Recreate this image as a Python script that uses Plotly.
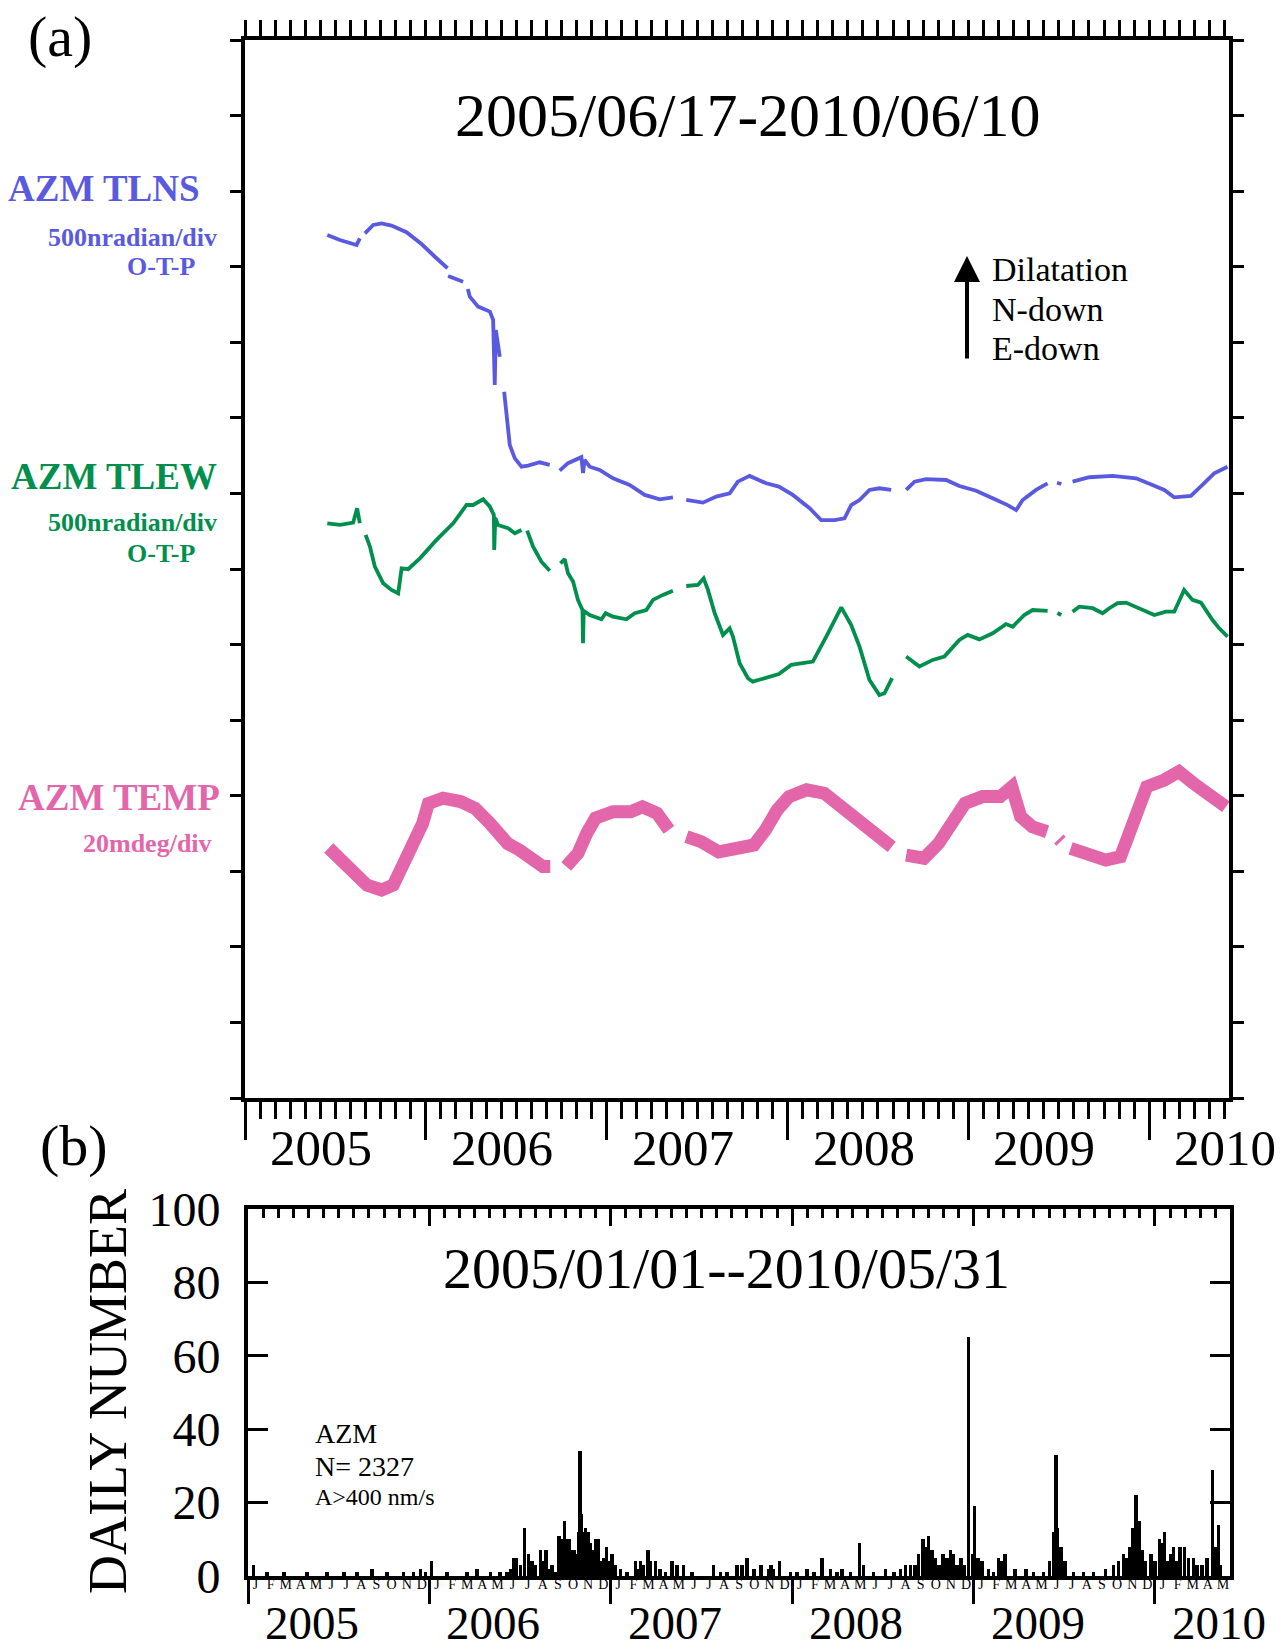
import plotly.graph_objects as go

# ---------------- data ----------------
# Panel (a): tilt (nradian, relative) and temperature (mdeg, relative); x in decimal years
TLNS_YEAR = [2005.455, 2005.525, 2005.617, 2005.635, None,
             2005.663, 2005.709, 2005.755, 2005.810, 2005.893, 2005.976, 2006.050, 2006.120, None,
             2006.123, 2006.206, None,
             2006.232, 2006.243, 2006.289, 2006.354, 2006.372, 2006.381, 2006.387, 2006.409, None,
             2006.433, 2006.446, 2006.464, 2006.492, 2006.529, 2006.565, 2006.630, 2006.685, None,
             2006.740, 2006.786, 2006.860, 2006.869, 2006.878, 2006.906, 2006.961, 2007.035, 2007.127,
             2007.210, 2007.293, 2007.366, None,
             2007.440, 2007.532, 2007.606, 2007.680, 2007.725, 2007.790, 2007.882, 2007.952, 2008.029,
             2008.122, 2008.186, 2008.260, 2008.315, 2008.352, 2008.398, 2008.453, 2008.508, 2008.573, None,
             2008.656, 2008.702, 2008.766, 2008.877, 2008.950, 2009.043, 2009.134, 2009.217, 2009.264,
             2009.300, 2009.374, 2009.438, None,
             2009.490, 2009.514, None,
             2009.576, 2009.669, 2009.797, 2009.927, 2010.018, 2010.083, 2010.138, 2010.230, 2010.294,
             2010.359, 2010.433]
TLNS_NRAD = [0, -33, -66, -22, None,
             11, 66, 77, 62, 18, -60, -144, -220, None,
             -271, -309, None,
             -357, -408, -474, -507, -562, -992, -629, -806, None,
             -1037, -1202, -1389, -1478, -1533, -1526, -1504, -1521, None,
             -1559, -1510, -1470, -1575, -1488, -1533, -1555, -1610, -1654,
             -1720, -1749, -1736, None,
             -1753, -1771, -1731, -1709, -1632, -1594, -1643, -1665, -1720,
             -1808, -1886, -1886, -1875, -1787, -1754, -1687, -1676, -1687, None,
             -1687, -1632, -1616, -1621, -1661, -1692, -1742, -1787, -1820,
             -1754, -1687, -1643, None,
             -1639, -1648, None,
             -1632, -1603, -1594, -1610, -1654, -1687, -1736, -1727, -1654,
             -1577, -1533]

TLEW_YEAR = [2005.455, 2005.525, 2005.598, 2005.620, 2005.635, None,
             2005.667, 2005.691, 2005.718, 2005.764, 2005.810, 2005.847, 2005.866, 2005.902, 2005.967,
             2006.059, 2006.151, 2006.225, 2006.261, 2006.317, 2006.354, 2006.376, 2006.378, 2006.384,
             2006.399, 2006.418, 2006.455, 2006.492, 2006.529, None,
             2006.560, 2006.593, 2006.639, 2006.685, None,
             2006.744, 2006.768, 2006.786, 2006.814, 2006.841, 2006.866, 2006.869, 2006.873, 2006.906,
             2006.971, 2006.994, 2007.035, 2007.109, 2007.155, 2007.219, 2007.256, 2007.311, 2007.366, None,
             2007.440, 2007.504, 2007.536, 2007.560, 2007.597, 2007.643, 2007.680, 2007.698, 2007.735,
             2007.781, 2007.808, 2007.882, 2007.952, 2008.020, 2008.140, 2008.214, 2008.297, 2008.352,
             2008.398, 2008.453, 2008.508, 2008.536, 2008.578, None,
             2008.656, 2008.729, 2008.803, 2008.867, 2008.950, 2008.996, 2009.061, 2009.134, 2009.208,
             2009.245, 2009.309, 2009.355, 2009.438, None,
             2009.492, 2009.514, None,
             2009.576, 2009.613, 2009.687, 2009.742, 2009.779, 2009.825, 2009.871, 2009.945, 2010.028,
             2010.092, 2010.138, 2010.193, 2010.239, 2010.286, 2010.350, 2010.387, 2010.433]
TLEW_NRAD = [0, -11, 4, 99, 0, None,
             -77, -155, -287, -397, -441, -463, -298, -304, -232,
             -110, 0, 121, 121, 159, 110, 55, -177, 35,
             -11, -18, -33, -66, -44, None,
             -49, -155, -254, -314, None,
             -265, -238, -331, -386, -507, -574, -794, -580, -607,
             -635, -595, -618, -635, -595, -574, -507, -474, -446, None,
             -415, -408, -364, -441, -595, -739, -695, -750, -926,
             -1025, -1048, -1025, -997, -937, -915, -750, -556, -673,
             -816, -1037, -1136, -1125, -1025, None,
             -882, -948, -904, -882, -772, -739, -768, -728, -667,
             -684, -607, -574, -579, None,
             -594, -607, None,
             -585, -552, -562, -595, -562, -529, -525, -562, -607,
             -585, -585, -441, -507, -525, -640, -695, -750]

TEMP_YEAR = [2005.463, 2005.512, 2005.593, 2005.674, 2005.755, 2005.820, 2005.869, 2005.933, 2005.982,
             2006.014, 2006.095, 2006.192, 2006.273, 2006.355, 2006.403, 2006.452, 2006.517, 2006.582,
             2006.647, 2006.688, None,
             2006.776, 2006.841, 2006.890, 2006.938, 2007.035, 2007.133, 2007.198, 2007.278, 2007.344, None,
             2007.441, 2007.522, 2007.619, 2007.717, 2007.814, 2007.878, 2007.943, 2008.008, 2008.105,
             2008.203, 2008.284, 2008.365, 2008.446, 2008.527, 2008.576, None,
             2008.656, 2008.754, 2008.835, 2008.900, 2008.981, 2009.078, 2009.176, 2009.240, 2009.289,
             2009.354, 2009.435, None,
             2009.500, 2009.512, None,
             2009.565, 2009.662, 2009.760, 2009.841, 2009.888, 2009.937, 2009.986, 2010.083, 2010.164,
             2010.245, 2010.343, 2010.424]
TEMP_MDEG = [0, -2.3, -5.8, -9.8, -11.1, -9.8, -4.9, 1.2, 6.5,
             11.8, 13.2, 12.3, 10.5, 6.5, 3.9, 1.2, -0.5, -3.2,
             -4.9, -4.9, None,
             -4.9, -1.4, 3.9, 7.9, 9.6, 9.6, 10.9, 9.2, 4.8, None,
             3.0, 1.7, -1.0, -0.5, 0.8, 4.8, 10.1, 13.6, 15.4,
             14.5, 11.4, 7.4, 4.8, 2.1, 0.3, None,
             -1.9, -2.7, 1.2, 6.5, 11.8, 13.6, 13.6, 16.2, 8.3,
             5.6, 4.3, None,
             2.4, 1.8, None,
             -0.1, -1.9, -3.2, -2.3, 3.9, 8.3, 16.2, 18.0, 20.2,
             17.1, 13.6, 10.9]

# Panel (b): daily number of events (A > 400 nm/s); x in decimal years
EQ_YEAR = [2005.031, 2005.105, 2005.197, 2005.326, 2005.436, 2005.528, 2005.601, 2005.684, 2005.767,
           2005.858, 2005.913, 2005.950, 2005.978, 2006.011, 2006.098, 2006.208, 2006.263, 2006.336,
           2006.391, 2006.428, 2006.450, 2006.465, 2006.480, 2006.502, 2006.525, 2006.547, 2006.566,
           2006.584, 2006.612, 2006.621, 2006.643, 2006.658, 2006.676, 2006.695, 2006.713, 2006.722,
           2006.731, 2006.744, 2006.755, 2006.768, 2006.777, 2006.796, 2006.814, 2006.823, 2006.832,
           2006.838, 2006.851, 2006.860, 2006.878, 2006.888, 2006.906, 2006.915, 2006.933, 2006.943,
           2006.961, 2006.976, 2006.988, 2007.007, 2007.025, 2007.053, 2007.090, 2007.136, 2007.148,
           2007.163, 2007.181, 2007.204, 2007.218, 2007.246, 2007.273, 2007.301, 2007.338, 2007.365,
           2007.402, 2007.448, 2007.567, 2007.604, 2007.641, 2007.696, 2007.724, 2007.751, 2007.788,
           2007.829, 2007.870, 2007.884, 2007.898, 2007.931, 2007.990, 2008.027, 2008.082, 2008.119,
           2008.165, 2008.211, 2008.247, 2008.275, 2008.321, 2008.372, 2008.394, 2008.449, 2008.514,
           2008.560, 2008.597, 2008.624, 2008.652, 2008.679, 2008.697, 2008.722, 2008.734, 2008.752,
           2008.771, 2008.789, 2008.808, 2008.830, 2008.854, 2008.872, 2008.890, 2008.909, 2008.931,
           2008.949, 2008.973, 2008.995, 2009.006, 2009.023, 2009.047, 2009.083, 2009.111, 2009.138,
           2009.157, 2009.175, 2009.230, 2009.291, 2009.331, 2009.386, 2009.418, 2009.442, 2009.453,
           2009.460, 2009.482, 2009.506, 2009.552, 2009.607, 2009.662, 2009.727, 2009.772, 2009.800,
           2009.827, 2009.846, 2009.864, 2009.879, 2009.894, 2009.905, 2009.916, 2009.929, 2009.947,
           2009.979, 2010.002, 2010.026, 2010.034, 2010.052, 2010.067, 2010.085, 2010.103, 2010.122,
           2010.140, 2010.164, 2010.186, 2010.213, 2010.232, 2010.260, 2010.287, 2010.318, 2010.333,
           2010.351, 2010.360]
EQ_COUNT = [3, 1, 1, 1, 1, 1, 1, 2, 1,
            1, 1, 2, 1, 4, 1, 1, 2, 1,
            1, 1, 2, 5, 5, 3, 13, 6, 4,
            3, 7, 4, 7, 2, 3, 1, 11, 9,
            10, 15, 10, 10, 7, 7, 6, 12, 34,
            17, 12, 13, 12, 9, 7, 10, 10, 4,
            5, 8, 4, 6, 3, 2, 1, 4, 2,
            4, 3, 7, 4, 4, 2, 1, 4, 3,
            3, 1, 3, 1, 1, 3, 3, 5, 2,
            3, 2, 3, 2, 4, 1, 1, 2, 1,
            5, 2, 1, 2, 1, 9, 3, 1, 2,
            1, 2, 3, 3, 3, 6, 10, 8, 11,
            7, 5, 3, 6, 5, 7, 6, 3, 5,
            3, 65, 6, 19, 5, 4, 2, 1, 5,
            4, 6, 2, 2, 1, 1, 4, 12, 33,
            13, 8, 4, 1, 1, 1, 2, 3, 4,
            6, 5, 8, 13, 22, 10, 15, 7, 4,
            6, 4, 10, 9, 12, 4, 6, 8, 4,
            8, 8, 5, 5, 3, 3, 5, 29, 8,
            14, 3]

YEARS = [2005, 2006, 2007, 2008, 2009, 2010]
MONTH_LETTERS = ["J", "F", "M", "A", "M", "J", "J", "A", "S", "O", "N", "D"]

# ---------------- plotting scales / styles ----------------
NRAD_PER_DIV = 500.0
MDEG_PER_DIV = 20.0
TLNS_BASE, TLEW_BASE, TEMP_BASE = 11.42, 7.605, 3.308   # divisions from bottom of panel (a)

BLUE, GREEN, PINK = "#5A5AE0", "#008F4C", "#E466AA"
SERIF = "Liberation Serif, Times New Roman, serif"
W, H = 1281, 1650

A_RANGE = [2005.0, 2010.441]
B_RANGE = [2005.0, 2010.414]


def px_x(v):
    return v / W


def px_y(v):
    return 1 - v / H


def scaled(vals, base, per_div):
    return [None if v is None else base + v / per_div for v in vals]


months_a = [2005 + i / 12 for i in range(0, 66) if 2005 + i / 12 <= A_RANGE[1]]
months_b = [2005 + i / 12 for i in range(0, 66) if 2005 + i / 12 <= B_RANGE[1]]
month_mid_b = [2005 + (i + 0.5) / 12 for i in range(0, 66) if 2005 + (i + 0.5) / 12 <= B_RANGE[1]]
month_txt_b = [MONTH_LETTERS[i % 12] for i in range(len(month_mid_b))]

fig = go.Figure()

fig.add_trace(go.Scatter(x=TLNS_YEAR, y=scaled(TLNS_NRAD, TLNS_BASE, NRAD_PER_DIV), mode="lines",
                         line=dict(color=BLUE, width=3.8), connectgaps=False, showlegend=False,
                         xaxis="x", yaxis="y"))
fig.add_trace(go.Scatter(x=TLEW_YEAR, y=scaled(TLEW_NRAD, TLEW_BASE, NRAD_PER_DIV), mode="lines",
                         line=dict(color=GREEN, width=3.8), connectgaps=False, showlegend=False,
                         xaxis="x", yaxis="y"))
fig.add_trace(go.Scatter(x=TEMP_YEAR, y=scaled(TEMP_MDEG, TEMP_BASE, MDEG_PER_DIV), mode="lines",
                         line=dict(color=PINK, width=13), connectgaps=False, showlegend=False,
                         xaxis="x", yaxis="y"))
# helper (empty) trace so that the top tick axis of panel (a) is drawn
fig.add_trace(go.Scatter(x=[None], y=[None], xaxis="x3", yaxis="y", showlegend=False, hoverinfo="skip"))

fig.add_trace(go.Bar(x=EQ_YEAR, y=EQ_COUNT, width=0.02, marker=dict(color="black", line=dict(width=0)),
                     showlegend=False, xaxis="x2", yaxis="y2"))
fig.add_trace(go.Scatter(x=[None], y=[None], xaxis="x4", yaxis="y2", showlegend=False, hoverinfo="skip"))

axis_common = dict(showgrid=False, zeroline=False, linecolor="black", tickcolor="black", automargin=False)

fig.update_layout(
    template="none",
    width=W, height=H, autosize=False,
    margin=dict(l=0, r=0, t=0, b=0, pad=0, autoexpand=False),
    paper_bgcolor="white", plot_bgcolor="white",
    font=dict(family=SERIF, color="black"),
    bargap=0,
    xaxis=dict(domain=[px_x(245), px_x(1229)], range=A_RANGE, anchor="y",
               showline=True, linewidth=4, mirror=True,
               tickmode="array", tickvals=YEARS, ticks="outside", ticklen=38, tickwidth=2.5,
               showticklabels=False,
               minor=dict(tickmode="array", tickvals=months_a, ticks="outside", ticklen=17, tickwidth=2.5,
                          tickcolor="black", showgrid=False),
               **axis_common),
    xaxis3=dict(range=A_RANGE, overlaying="x", anchor="y", side="top",
                tickmode="array", tickvals=months_a, ticks="outside", ticklen=19, tickwidth=2.5,
                showticklabels=False, showline=False, **axis_common),
    yaxis=dict(domain=[px_y(1098), px_y(40)], range=[0, 14], anchor="x",
               showline=True, linewidth=4, mirror="ticks",
               tickmode="array", tickvals=list(range(0, 15)), ticks="outside", ticklen=11, tickwidth=3,
               showticklabels=False, **axis_common),
    xaxis2=dict(domain=[px_x(248), px_x(1230)], range=B_RANGE, anchor="y2",
                showline=True, linewidth=4, mirror=True,
                tickmode="array", tickvals=month_mid_b, ticktext=month_txt_b,
                ticks="outside", ticklen=0, tickwidth=0,
                tickfont=dict(family=SERIF, size=14), ticklabelstandoff=-8,
                minor=dict(tickmode="array", tickvals=YEARS, ticks="outside", ticklen=24, tickwidth=3,
                           tickcolor="black", showgrid=False),
                **axis_common),
    xaxis4=dict(range=B_RANGE, overlaying="x2", anchor="y2", side="top",
                tickmode="array", tickvals=YEARS, ticks="inside", ticklen=17, tickwidth=3,
                showticklabels=False, showline=False,
                minor=dict(tickmode="array", tickvals=months_b, ticks="inside", ticklen=9, tickwidth=2.5,
                           tickcolor="black", showgrid=False),
                **axis_common),
    yaxis2=dict(domain=[px_y(1576), px_y(1209)], range=[0, 100], anchor="x2",
                showline=True, linewidth=4, mirror="ticks",
                tickmode="array", tickvals=[0, 20, 40, 60, 80, 100], ticks="inside", ticklen=20, tickwidth=3,
                tickfont=dict(family=SERIF, size=48), ticklabelstandoff=14,
                **axis_common),
)

ann = []


def text(x, y, s, size, color="black", bold=False, xanchor="center", xref="paper", angle=0,
         yanchor="middle"):
    ann.append(dict(x=x, y=y, xref=xref, yref="paper", text=("<b>%s</b>" % s if bold else s),
                    showarrow=False, xanchor=xanchor, yanchor=yanchor, textangle=angle,
                    font=dict(family=SERIF, size=size, color=color)))


text(px_x(60), px_y(36), "(a)", 58)
text(px_x(748), px_y(115), "2005/06/17-2010/06/10", 62)
text(px_x(990), px_y(270), "Dilatation", 34, xanchor="left")
text(px_x(990), px_y(309), "N-down", 34, xanchor="left")
text(px_x(990), px_y(348), "E-down", 34, xanchor="left")
ann.append(dict(x=px_x(967), y=px_y(256), xref="paper", yref="paper", ax=0, ay=104, axref="pixel",
                ayref="pixel", text="", showarrow=True, arrowhead=2, arrowsize=1.3, arrowwidth=4,
                arrowcolor="black"))

text(px_x(202), px_y(189), "AZM TLNS", 37, BLUE, True, "right")
text(px_x(219), px_y(237), "500nradian/div", 26, BLUE, True, "right")
text(px_x(197), px_y(266), "O-T-P", 26, BLUE, True, "right")
text(px_x(219), px_y(476), "AZM TLEW", 37, GREEN, True, "right")
text(px_x(219), px_y(523), "500nradian/div", 26, GREEN, True, "right")
text(px_x(197), px_y(554), "O-T-P", 26, GREEN, True, "right")
text(px_x(222), px_y(797), "AZM TEMP", 37, PINK, True, "right")
text(px_x(214), px_y(844), "20mdeg/div", 26, PINK, True, "right")

for yr in YEARS:
    text(yr + 0.42, px_y(1148), str(yr), 51, xref="x")
    text(yr + 0.353, px_y(1623), str(yr), 47, xref="x2")

text(px_x(74), px_y(1145), "(b)", 58)
text(px_x(726), px_y(1268), "2005/01/01--2010/05/31", 58)
text(px_x(313), px_y(1433), "AZM", 28, xanchor="left")
text(px_x(313), px_y(1466), "N= 2327", 28, xanchor="left")
text(px_x(313), px_y(1497), "A&gt;400 nm/s", 24, xanchor="left")
text(px_x(108), px_y(1392), "DAILY NUMBER", 54, angle=-90)

fig.update_layout(annotations=ann)

fig.write_html("out.html")
